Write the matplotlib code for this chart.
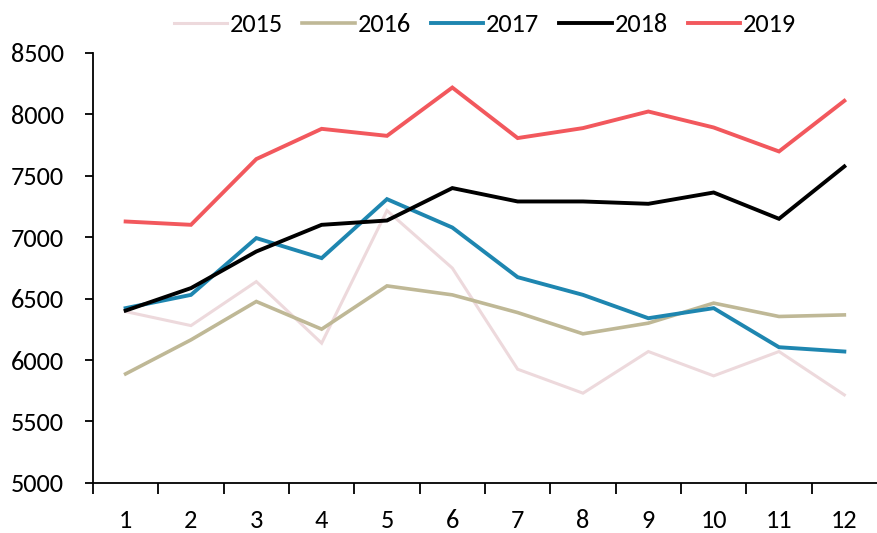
import matplotlib
matplotlib.use("Agg")
import matplotlib.pyplot as plt
import numpy as np

months = list(range(1, 13))
month_labels = [str(m) for m in months]
years = ["2015", "2016", "2017", "2018", "2019"]
v2015 = [6394, 6280, 6638, 6137, 7216, 6748, 5925, 5730, 6069, 5871, 6069, 5716]
v2016 = [5887, 6164, 6476, 6251, 6603, 6530, 6386, 6213, 6300, 6463, 6354, 6367]
v2017 = [6422, 6530, 6992, 6829, 7309, 7078, 6674, 6530, 6340, 6422, 6104, 6069]
v2018 = [6402, 6585, 6883, 7100, 7135, 7399, 7290, 7290, 7271, 7363, 7149, 7575]
v2019 = [7127, 7100, 7635, 7881, 7824, 8217, 7806, 7887, 8022, 7892, 7697, 8109]
yticks = [5000, 5500, 6000, 6500, 7000, 7500, 8000, 8500]

colors = ["#EDD9DC", "#BFB896", "#1E86B0", "#000000", "#F2585D"]
widths = [2.2, 2.6, 2.8, 2.8, 2.8]

plt.rcParams['font.family'] = ['Carlito', 'PT Sans Narrow', 'DejaVu Sans']
FS = 19

fig = plt.figure(figsize=(8.77, 5.33), dpi=100)
ax = fig.add_axes([0.106, 0.094, 0.894, 0.807])

for name, vals, c, lw in zip(years, [v2015, v2016, v2017, v2018, v2019], colors, widths):
    ax.plot(months, vals, color=c, lw=lw, label=name, solid_joinstyle='miter')

ax.set_xlim(0.5, 12.5)
ax.set_ylim(5000, 8500)
ax.set_yticks(yticks)
ax.set_yticklabels([str(t) for t in yticks])
ax.set_xticks(months)
ax.set_xticklabels(month_labels)
ax.set_xticks(np.arange(0.5, 12.0, 1.0), minor=True)
ax.tick_params(axis='x', which='major', length=0, pad=19, labelsize=FS)
ax.tick_params(axis='x', which='minor', length=8, width=1.3, direction='out')
ax.tick_params(axis='y', length=6, width=1.3, direction='out', labelsize=FS, pad=15)
for s in ['top', 'right']:
    ax.spines[s].set_visible(False)
for s in ['left', 'bottom']:
    ax.spines[s].set_linewidth(1.3)

fig.legend(loc='upper center', bbox_to_anchor=(0.553, 1.02), ncol=5, frameon=False,
           fontsize=FS, handlelength=2.0, handletextpad=0.1, columnspacing=0.75)

fig.savefig("out.png", dpi=100)
